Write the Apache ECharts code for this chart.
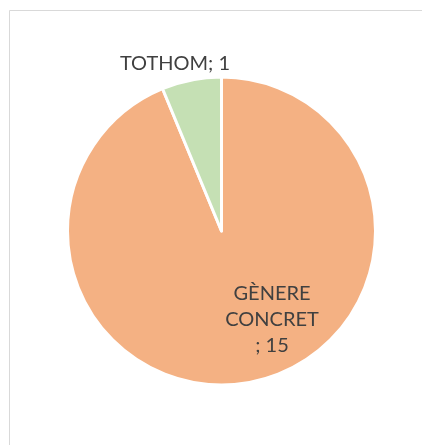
<!DOCTYPE html>
<html>
<head>
<meta charset="utf-8">
<style>html,body{margin:0;padding:0;background:#fff;}#c{width:422px;height:445px;}</style>
<script src="https://cdn.jsdelivr.net/npm/echarts@6/dist/echarts.min.js"></script>
</head>
<body>
<div id="c"></div>
<script>
var categories = ['GÈNERE CONCRET', 'TOTHOM'];
var values = [15, 1];
var colors = ['#F4B183', '#C5E0B4'];

var chart = echarts.init(document.getElementById('c'), null, {renderer: 'canvas'});
var labelPos = [[272, 320], [175, 64]];
chart.setOption({
  animation: false,
  backgroundColor: '#fff',
  graphic: [{
    type: 'rect',
    shape: {x: 9.5, y: 10.5, width: 416, height: 440},
    style: {fill: 'none', stroke: '#d9d9d9', lineWidth: 1}
  }],
  series: [{
    type: 'pie',
    center: [221.5, 231],
    radius: [0, 154],
    startAngle: 90,
    clockwise: true,
    avoidLabelOverlap: false,
    itemStyle: {borderColor: '#fff', borderWidth: 3},
    label: {
      show: true,
      position: 'inside',
      fontFamily: 'Lato',
      fontSize: 20,
      lineHeight: 26,
      color: '#404040',
      align: 'center',
      formatter: function (p) {
        if (p.dataIndex === 0) return 'GÈNERE\nCONCRET\n; ' + p.value;
        return p.name + '; ' + p.value;
      }
    },
    labelLine: {show: false},
    labelLayout: function (params) {
      var pos = labelPos[params.dataIndex];
      return {x: pos[0], y: pos[1], align: 'center', verticalAlign: 'middle'};
    },
    data: categories.map(function (n, i) {
      return {name: n, value: values[i], itemStyle: {color: colors[i]}};
    })
  }]
});
</script>
</body>
</html>
